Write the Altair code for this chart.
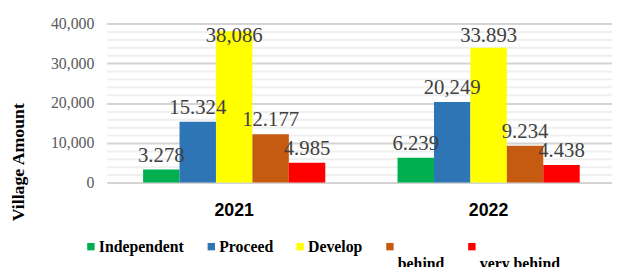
import altair as alt
import pandas as pd

years = ["2021", "2022"]
categories = ["Independent", "Proceed", "Develop", "behind", "very behind"]
colors = ["#00B050", "#2E75B6", "#FFFF00", "#C55A11", "#FF0000"]
values_2021 = [3278, 15324, 38086, 12177, 4985]
values_2022 = [6239, 20249, 33893, 9234, 4438]
labels_2021 = ["3.278", "15.324", "38,086", "12.177", "4.985"]
labels_2022 = ["6.239", "20,249", "33.893", "9.234", "4.438"]
y_ticks = list(range(0, 40001, 2000))

rows = []
for yr, vals, labs in [(years[0], values_2021, labels_2021), (years[1], values_2022, labels_2022)]:
    for c, v, l in zip(categories, vals, labs):
        rows.append({"year": yr, "category": c, "value": v, "label": l})
df = pd.DataFrame(rows)

x_enc = alt.X(
    "year:N", sort=years,
    scale=alt.Scale(paddingInner=0.284, paddingOuter=0.135, align=0.53),
    axis=alt.Axis(title=None, labelAngle=0, ticks=False, domain=False, grid=False,
                  labelPadding=19, labelFont="Liberation Sans", labelFontWeight="bold",
                  labelFontSize=18, labelColor="#000000", labelBaseline="top"),
)
xoff = alt.XOffset("category:N", sort=categories, scale=alt.Scale(paddingInner=0, paddingOuter=0))

y_axis = alt.Axis(
    values=y_ticks, title="Village Amount", ticks=False, domain=False,
    labelExpr="datum.value % 10000 === 0 ? datum.label : ''",
    labelFont="Liberation Serif", labelFontSize=16, labelColor="#595959", labelPadding=13,
    gridColor={"condition": {"test": "datum.value % 10000 === 0", "value": "#d4d4d4"}, "value": "#efefef"},
    gridWidth=2,
    titleFont="Liberation Serif", titleFontWeight="bold", titleFontSize=18, titleColor="#000000",
    titleX=-84, titleY=140, titleBaseline="alphabetic", titleAngle=270, titleAlign="center",
)
y_scale = alt.Scale(domain=[0, 40000], nice=False)

bars = alt.Chart(df).mark_bar().encode(
    x=x_enc,
    xOffset=xoff,
    y=alt.Y("value:Q", scale=y_scale, axis=y_axis),
    color=alt.Color(
        "category:N", sort=categories,
        scale=alt.Scale(domain=categories, range=colors),
        legend=alt.Legend(
            orient="none", legendX=-24, legendY=218, direction="horizontal", title=None,
            symbolType="square", symbolSize=56, symbolStrokeWidth=0,
            labelFont="Liberation Serif", labelFontWeight="bold", labelFontSize=16,
            labelColor="#000000", columnPadding=19, labelOffset=0,
            labelExpr="indexof(['behind', 'very behind'], datum.label) >= 0 ? ['', datum.label] : [datum.label, '']",
        ),
    ),
)

text = alt.Chart(df).transform_calculate(
    label_at="min(datum.value, 33300)"
).mark_text(
    font="Liberation Serif", fontSize=21, color="#404040", dy=-8, baseline="alphabetic"
).encode(
    x=x_enc,
    xOffset=xoff,
    y=alt.Y("label_at:Q", scale=y_scale, axis=y_axis),
    text="label:N",
)

chart = alt.layer(bars, text).properties(
    width=512, height=161,
    autosize=alt.AutoSizeParams(type="none"),
    padding={"left": 100, "top": 14, "right": 0, "bottom": 100},
).configure_view(stroke=None)

chart.save("out.html", embed_options={"renderer": "svg", "actions": False})
